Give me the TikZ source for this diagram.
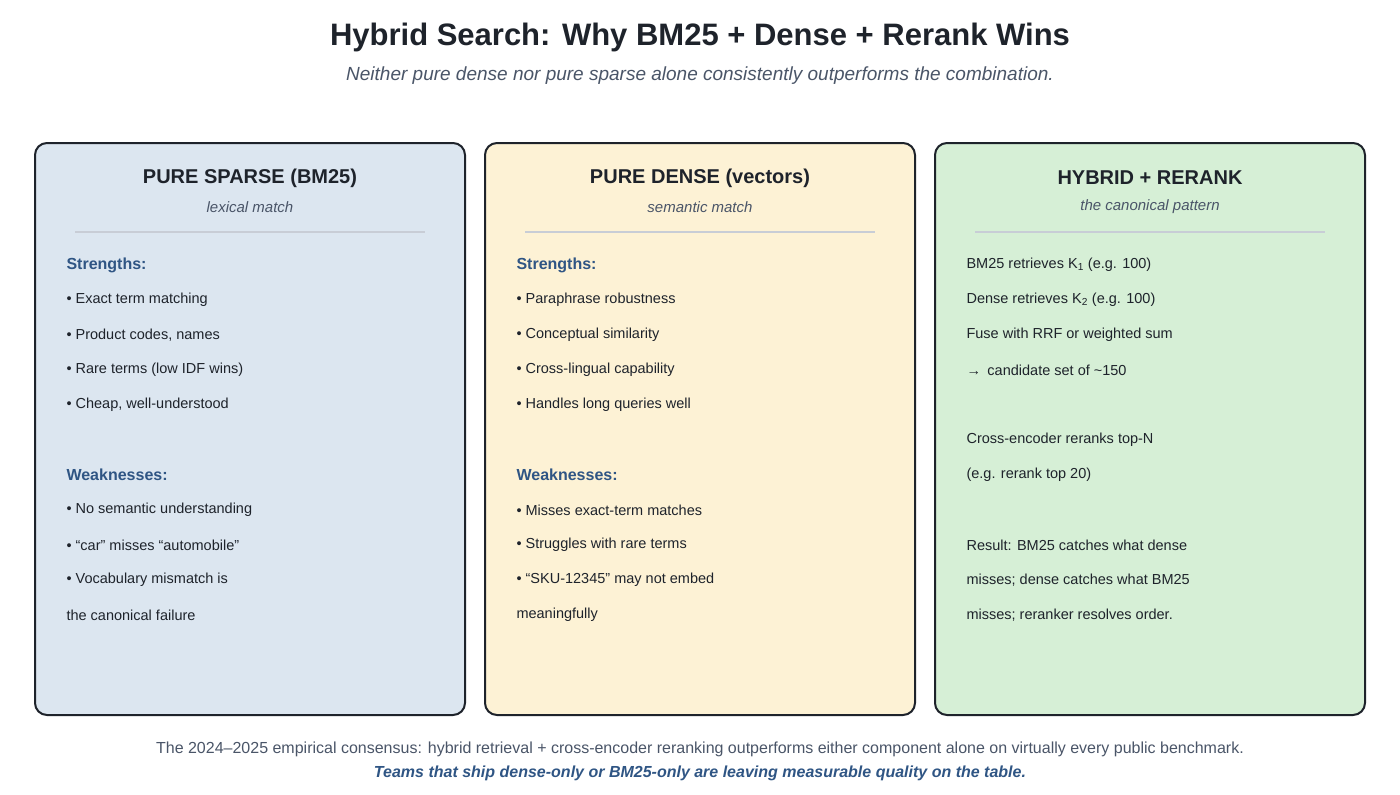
\documentclass[tikz,border=0pt]{standalone}
\usepackage{fontspec}
\setmainfont{Liberation Sans}
\definecolor{ink}{HTML}{1E232B}
\definecolor{sub}{HTML}{4A5568}
\definecolor{hd}{HTML}{2F5584}
\definecolor{fb}{HTML}{DCE6F0}
\definecolor{fy}{HTML}{FDF2D5}
\definecolor{fg}{HTML}{D6EFD6}
\definecolor{rl}{HTML}{C8CDD6}
\begin{document}
\begin{tikzpicture}[x=1pt,y=-1pt,
  panel/.style={draw=ink,line width=2pt,rounded corners=12pt},
  ptitle/.style={font=\fontsize{20}{24}\selectfont\bfseries,text=ink},
  psub/.style={font=\fontsize{15}{18}\selectfont\itshape,text=sub},
  sec/.style={anchor=west,font=\fontsize{16}{19}\selectfont\bfseries,text=hd},
  item/.style={anchor=west,font=\fontsize{14.5}{17}\selectfont,text=ink}]
\useasboundingbox[fill=white] (0,0) rectangle (1400,795);
\node[font=\fontsize{31}{36}\selectfont\bfseries,text=ink] (title) at (700,37) {Hybrid Search: Why BM25 + Dense + Rerank Wins};
\node[font=\fontsize{19}{22}\selectfont\itshape,text=sub] (subtitle) at (700,76) {Neither pure dense nor pure sparse alone consistently outperforms the combination.};
\foreach \x/\c/\n in {35/fb/a,485/fy/b,935/fg/c}{
  \draw[panel,fill=\c] (\x,143) rectangle ++(430,572);
  \draw[rl,line width=1.5pt] (\x+40,232) -- ++(350,0);
}
\node[ptitle] (t1) at (250,178) {PURE SPARSE (BM25)};
\node[psub] (s1) at (250,207) {lexical match};
\node[ptitle] (t2) at (700,178) {PURE DENSE (vectors)};
\node[psub] (s2) at (700,207) {semantic match};
\node[ptitle] (t3) at (1150,178) {HYBRID + RERANK};
\node[psub] (s3) at (1150,207) {the canonical pattern};
% col 1
\node[sec] (a0) at (63,265) {Strengths:};
\node[item] (a1) at (63,300) {• Exact term matching};
\node[item] (a2) at (63,335) {• Product codes, names};
\node[item] (a3) at (63,370) {• Rare terms (low IDF wins)};
\node[item] (a4) at (63,405) {• Cheap, well-understood};
\node[sec] (a5) at (63,475) {Weaknesses:};
\node[item] (a6) at (63,510) {• No semantic understanding};
\node[item] (a7) at (63,545) {• “car” misses “automobile”};
\node[item] (a8) at (63,580) {• Vocabulary mismatch is};
\node[item] (a9) at (63,615) {the canonical failure};
% col 2
\node[sec] (b0) at (513,265) {Strengths:};
\node[item] (b1) at (513,300) {• Paraphrase robustness};
\node[item] (b2) at (513,335) {• Conceptual similarity};
\node[item] (b3) at (513,370) {• Cross-lingual capability};
\node[item] (b4) at (513,405) {• Handles long queries well};
\node[sec] (b5) at (513,475) {Weaknesses:};
\node[item] (b6) at (513,510) {• Misses exact-term matches};
\node[item] (b7) at (513,545) {• Struggles with rare terms};
\node[item] (b8) at (513,580) {• “SKU-12345” may not embed};
\node[item] (b9) at (513,615) {meaningfully};
% col 3
\node[item] (c1) at (963,265) {BM25 retrieves K\textsubscript{1} (e.g. 100)};
\node[item] (c2) at (963,300) {Dense retrieves K\textsubscript{2} (e.g. 100)};
\node[item] (c3) at (963,335) {Fuse with RRF or weighted sum};
\node[item] (c4) at (963,370) {→\, candidate set of \textasciitilde150};
\node[item] (c5) at (963,440) {Cross-encoder reranks top-N};
\node[item] (c6) at (963,475) {(e.g. rerank top 20)};
\node[item] (c7) at (963,545) {Result: BM25 catches what dense};
\node[item] (c8) at (963,580) {misses; dense catches what BM25};
\node[item] (c9) at (963,615) {misses; reranker resolves order.};
\node[font=\fontsize{16}{19}\selectfont,text=sub] (f1) at (700,749) {The 2024–2025 empirical consensus: hybrid retrieval + cross-encoder reranking outperforms either component alone on virtually every public benchmark.};
\node[font=\fontsize{16}{19}\selectfont\bfseries\itshape,text=hd] (f2) at (700,773) {Teams that ship dense-only or BM25-only are leaving measurable quality on the table.};
\end{tikzpicture}
\end{document}
